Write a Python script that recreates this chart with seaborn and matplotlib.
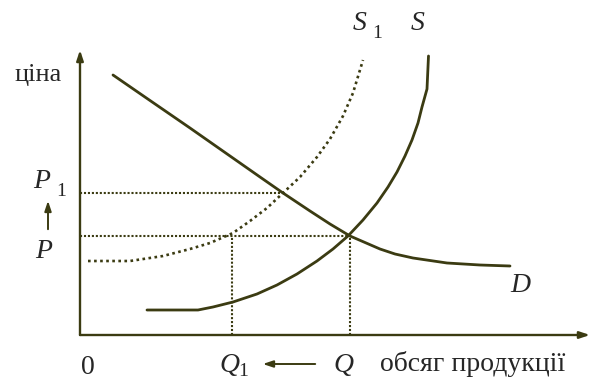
import matplotlib
matplotlib.use('Agg')
import matplotlib.pyplot as plt
import seaborn as sns
import pandas as pd

# Curve points (quantity, price)
demand_q = [3.3, 7.0, 11.0, 15.0, 18.0, 20.3, 23.0, 25.0, 27.0, 30.0, 31.5, 33.3, 36.7, 40.0, 43.0]
demand_p = [26.0, 23.45, 20.7, 17.9, 15.8, 14.2, 12.4, 11.1, 9.9, 8.6, 8.1, 7.7, 7.2, 7.0, 6.9]

supply_q = [6.7, 11.8, 13.3, 15.3, 17.7, 19.7, 21.7, 23.7, 25.3, 26.8, 28.3, 29.7, 30.8,
            31.7, 32.5, 33.2, 33.8, 34.2, 34.7, 34.85]
supply_p = [2.5, 2.5, 2.8, 3.3, 4.1, 5.0, 6.1, 7.4, 8.6, 9.9, 11.5, 13.2, 14.8,
            16.3, 17.9, 19.5, 21.2, 22.8, 24.6, 27.9]

supply1_q = [0.8, 5.0, 8.3, 11.0, 13.0, 15.3, 17.0, 18.7, 20.3, 22.0, 23.7, 25.0, 26.3, 27.3, 28.3]
supply1_p = [7.4, 7.4, 7.9, 8.6, 9.2, 10.2, 11.4, 12.7, 14.2, 15.8, 17.8, 19.6, 21.9, 24.2, 27.5]

# equilibrium levels
P1, P0 = 14.2, 9.9
Q1, Q0 = 15.2, 27.0
Q1_cross = 20.3

ink = '#3b3b12'

sns.set_style('white')
plt.rcParams['font.family'] = ['Liberation Serif', 'DejaVu Serif']

fig = plt.figure(figsize=(5.98, 3.81), dpi=100)
ax = fig.add_axes([0, 0, 1, 1])
ax.set_xlim(-8, 51.8)
ax.set_ylim(-4.6, 33.5)
ax.axis('off')

# axes with arrows
arrow = dict(arrowstyle='-|>,head_length=0.6,head_width=0.2', color=ink, lw=1.7, shrinkA=0, shrinkB=0)
ax.annotate('', xy=(51.0, 0), xytext=(0, 0), arrowprops=arrow)
ax.annotate('', xy=(0, 28.5), xytext=(0, 0), arrowprops=arrow)

df_d = pd.DataFrame({'q': demand_q, 'p': demand_p})
df_s = pd.DataFrame({'q': supply_q, 'p': supply_p})
df_s1 = pd.DataFrame({'q': supply1_q, 'p': supply1_p})

sns.lineplot(data=df_d, x='q', y='p', sort=False, ax=ax, color=ink, lw=2.0)
sns.lineplot(data=df_s, x='q', y='p', sort=False, ax=ax, color=ink, lw=2.0)
sns.lineplot(data=df_s1, x='q', y='p', sort=False, ax=ax, color=ink, lw=1.9,
             linestyle=(0, (1, 1.3)))

# guide lines
dot = dict(color=ink, lw=1.5, linestyle=(0, (1, 0.9)))
ax.plot([0, Q1_cross], [P1, P1], **dot)
ax.plot([0, Q0], [P0, P0], **dot)
ax.plot([Q1, Q1], [0, P0], **dot)
ax.plot([Q0, Q0], [0, P0], **dot)

# labels
big = 20
sub = 14
ax.text(-4.2, 26.0, 'ціна', fontsize=19, ha='center', va='center')
ax.text(28.0, 31.2, 'S', fontsize=big, style='italic', ha='center', va='center')
ax.text(29.7, 30.2, '1', fontsize=sub, ha='center', va='center')
ax.text(33.8, 31.2, 'S', fontsize=big, style='italic', ha='center', va='center')
ax.text(-3.8, 15.4, 'P', fontsize=big, style='italic', ha='center', va='center')
ax.text(-1.9, 14.3, '1', fontsize=sub, ha='center', va='center')
ax.annotate('', xy=(-3.2, 13.7), xytext=(-3.2, 10.3),
            arrowprops=dict(arrowstyle='-|>,head_length=0.6,head_width=0.2', color=ink, lw=1.4))
ax.text(-3.6, 8.3, 'P', fontsize=big, style='italic', ha='center', va='center')
ax.text(44.0, 5.0, 'D', fontsize=big, style='italic', ha='center', va='center')
ax.text(0.8, -3.3, '0', fontsize=big, ha='center', va='center')
ax.text(14.9, -3.1, 'Q', fontsize=big, style='italic', ha='center', va='center')
ax.text(16.3, -3.7, '1', fontsize=sub, ha='center', va='center')
ax.annotate('', xy=(18.0, -2.9), xytext=(23.8, -2.9),
            arrowprops=dict(arrowstyle='-|>,head_length=0.6,head_width=0.2', color=ink, lw=1.4))
ax.text(26.3, -3.1, 'Q', fontsize=big, style='italic', ha='center', va='center')
ax.text(30.0, -2.9, 'обсяг продукції', fontsize=big, ha='left', va='center')

fig.savefig('out.png', dpi=100)
